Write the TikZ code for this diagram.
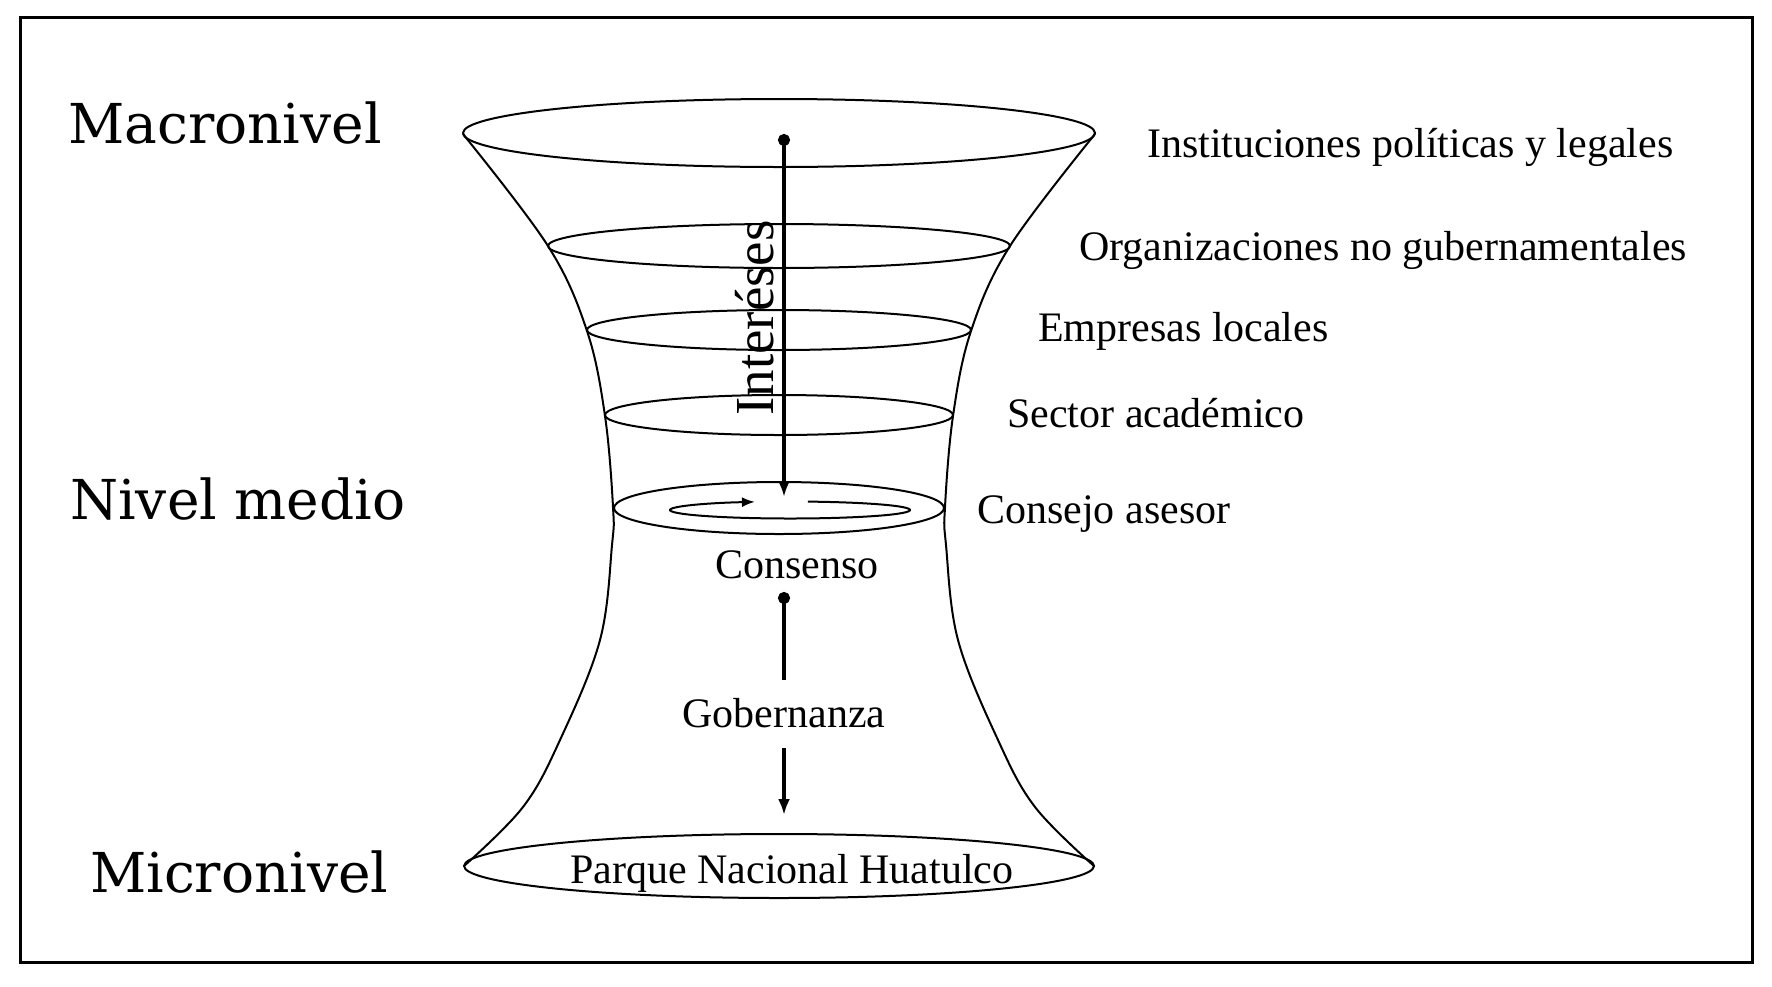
\documentclass[tikz,border=0pt]{standalone}
\usepackage{fontspec}
\setmainfont{Liberation Serif}
\newfontfamily\slabfont{DejaVu Serif}
\usetikzlibrary{arrows.meta}
\begin{document}
\begin{tikzpicture}[x=1pt,y=-1pt,
  lbl/.style={font=\fontsize{42}{48}\selectfont, inner sep=0pt},
  lvl/.style={font=\slabfont\fontsize{55}{60}\selectfont, inner sep=0pt, anchor=base west},
  ring/.style={line width=2pt},
  flow/.style={line width=3.4pt},
  tipend/.style={-{Latex[length=16pt,width=12pt]}},
  dotstart/.style={{Circle[length=12pt]}-},
]
\useasboundingbox (0,0) rectangle (1772,986);
\draw[line width=3pt] (20,17) rectangle (1752,962);

% hourglass sides
\draw[ring] plot[smooth, tension=0.6] coordinates {(463,134) (548,246) (587,331) (605,416) (613,507) (612,545) (600,640) (560,740) (523,807) (464,866)};
\draw[ring] plot[smooth, tension=0.6] coordinates {(1095,134) (1010,246) (971,331) (953,416) (945,507) (946,545) (958,640) (998,740) (1035,807) (1094,866)};

% rings
\draw[ring] (779,133) ellipse[x radius=316, y radius=34];
\draw[ring] (779,246) ellipse[x radius=231, y radius=22];
\draw[ring] (779,330) ellipse[x radius=192, y radius=20];
\draw[ring] (779,415) ellipse[x radius=174, y radius=20];
\draw[ring] (779,508) ellipse[x radius=165, y radius=26];
\draw[ring] (779,866) ellipse[x radius=315, y radius=32];

% inner circulation
\draw[ring, -{Latex[length=13pt,width=10pt]}] (790,510) ++(-81.4:120 and 8.5) arc[start angle=-81.4, end angle=253, x radius=120, y radius=8.5];

% labels right
\node[lbl, anchor=base west] (inst) at (1147,157) {Instituciones políticas y legales};
\node[lbl, anchor=base west] (ong) at (1079,260) {Organizaciones no gubernamentales};
\node[lbl, anchor=base west] (emp) at (1038,341) {Empresas locales};
\node[lbl, anchor=base west] (sec) at (1007,427) {Sector académico};
\node[lbl, anchor=base west] (cons) at (977,523) {Consejo asesor};

% center texts
\node[lbl, anchor=base] (consenso) at (797,578) {Consenso};
\node[lbl, anchor=base] (gob) at (784,727) {Gobernanza};
\node[lbl, anchor=base] (pnh) at (792,883) {Parque Nacional Huatulco};
\node[lbl, font=\fontsize{55}{60}\selectfont, rotate=90, anchor=base] (int) at (773,318) {Interéses};

% levels
\node[lvl] (macro) at (68,143) {Macronivel};
\node[lvl] (nivel) at (70,519) {Nivel medio};
\node[lvl] (micro) at (90,892) {Micronivel};

% arrows
\coordinate (intTop) at (784,134);
\coordinate (intTip) at (784,497);
\coordinate (gobDot) at (784,592);
\coordinate (gobTop) at (784,680);
\coordinate (gobBot) at (784,748);
\coordinate (gobTip) at (784,815);
\draw[flow, {Circle[length=12pt]}-{Latex[length=16pt,width=12pt]}] (intTop) -- (intTip);
\draw[flow, dotstart] (gobDot) -- (gobTop);
\draw[flow, tipend] (gobBot) -- (gobTip);
\end{tikzpicture}
\end{document}
